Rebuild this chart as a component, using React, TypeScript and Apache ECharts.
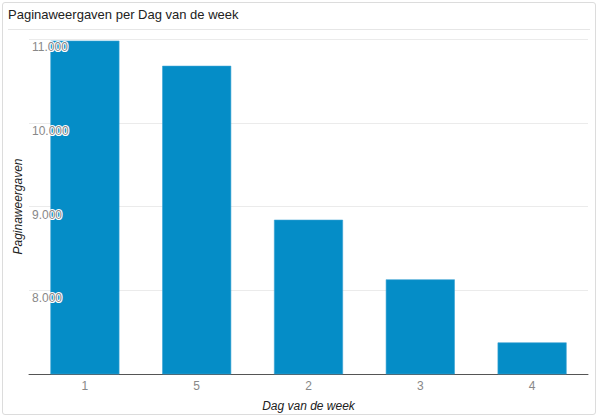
import React, { useEffect, useRef } from 'react'
import * as echarts from 'echarts'

const days = ['1', '5', '2', '3', '4']
const pageviews = [10980, 10680, 8842, 8130, 7377]
const yMin = 7000
const yMax = 11000
const yStep = 1000

const formatNl = (v: number) => v.toLocaleString('nl-NL')

const App: React.FC = () => {
  const chartRef = useRef<HTMLDivElement>(null)

  useEffect(() => {
    if (!chartRef.current) return
    const chart = echarts.init(chartRef.current, undefined, { renderer: 'svg' })

    const font = '"Liberation Sans", Arial, sans-serif'

    const option = {
      animation: false,
      textStyle: { fontFamily: font },
      title: {
        text: 'Paginaweergaven per Dag van de week',
        left: 8,
        top: 8,
        padding: 0,
        textStyle: { fontSize: 13, fontWeight: 'normal', color: '#222', fontFamily: font },
      },
      graphic: [
        {
          type: 'line',
          shape: { x1: 8, y1: 29.5, x2: 590, y2: 29.5 },
          style: { stroke: '#e6e6e6', lineWidth: 1 },
          silent: true,
        },
      ],
      grid: { left: 29, right: 11, top: 39, bottom: 44 },
      xAxis: {
        type: 'category',
        data: days,
        name: 'Dag van de week',
        nameLocation: 'middle',
        nameGap: 26,
        nameTextStyle: { fontStyle: 'italic', fontSize: 12, color: '#222' },
        axisLine: { lineStyle: { color: '#555', width: 1 } },
        axisTick: { show: false },
        axisLabel: { color: '#888', fontSize: 12, margin: 6 },
      },
      yAxis: [
        {
          type: 'value',
          min: yMin,
          max: yMax,
          interval: yStep,
          name: 'Paginaweergaven',
          nameLocation: 'middle',
          nameGap: 5,
          nameTextStyle: { fontStyle: 'italic', fontSize: 12, color: '#222' },
          axisLine: { show: false },
          axisTick: { show: false },
          axisLabel: { show: false },
          splitLine: { lineStyle: { color: '#ebebeb', width: 1 } },
        },
        {
          type: 'value',
          position: 'left',
          min: yMin,
          max: yMax,
          interval: yStep,
          z: 10,
          axisLine: { show: false },
          axisTick: { show: false },
          splitLine: { show: false },
          axisLabel: {
            inside: true,
            margin: 3,
            showMinLabel: false,
            verticalAlign: 'top',
            padding: [2, 0, 0, 0],
            color: '#888',
            fontSize: 12,
            textBorderColor: '#fff',
            textBorderWidth: 2,
            formatter: (v: number) => formatNl(v),
          },
        },
      ],
      series: [
        {
          type: 'bar',
          data: pageviews,
          barWidth: 69,
          yAxisIndex: 0,
          itemStyle: { color: '#058dc7', borderColor: '#3aa3d3', borderWidth: 0.6 },
        },
      ],
    }

    chart.setOption(option)

    return () => {
      chart.dispose()
    }
  }, [])

  return (
    <div style={{ position: 'fixed', left: 0, top: 0, width: 599, height: 418, background: '#fff' }}>
      <div
        style={{
          position: 'absolute',
          left: 2,
          top: 2,
          width: 592,
          height: 411,
          border: '1px solid #dcdcdc',
          borderRadius: 3,
        }}
      />
      <div ref={chartRef} style={{ position: 'absolute', left: 0, top: 0, width: 599, height: 418 }} />
    </div>
  )
}

export default App
